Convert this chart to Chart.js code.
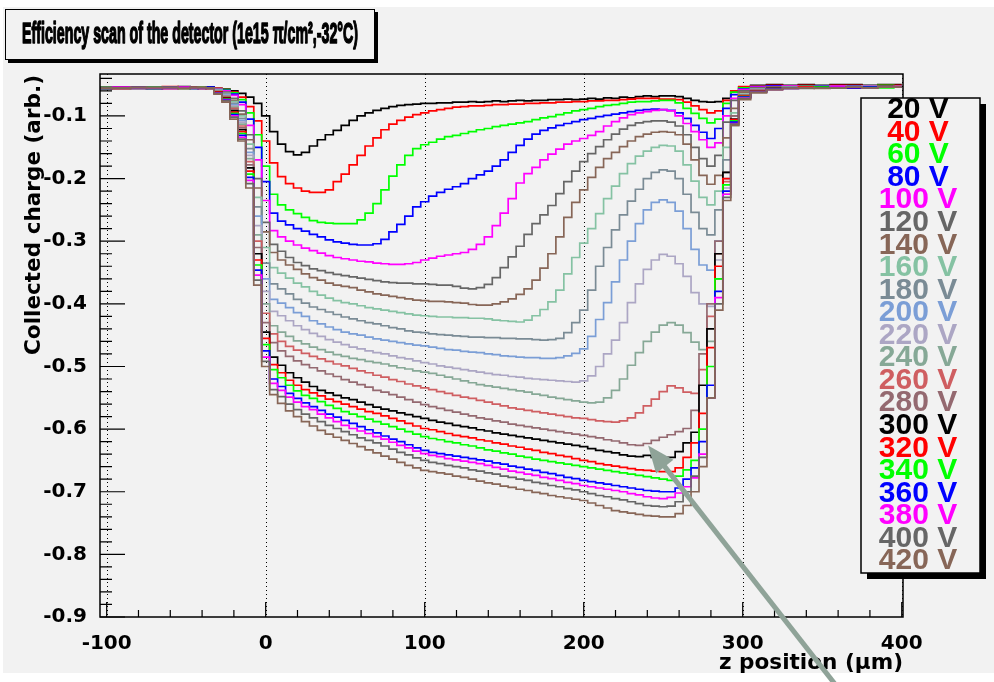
<!DOCTYPE html>
<html>
<head>
<meta charset="utf-8">
<script src="https://cdn.jsdelivr.net/npm/chart.js@4.4.0/dist/chart.umd.min.js"></script>
<style>
  html, body { margin: 0; padding: 0; background: #fff; }
  canvas { display: block; }
</style>
</head>
<body>
<canvas id="scan" width="994" height="682"></canvas>
<script>
// z position of each bin (um)
var zPos = [-104,-90,-80,-70,-60,-50,-45,-40,-35,-30,-25,-20,-15,-10,-5,0,
  5,10,15,20,25,30,35,40,45,50,55,60,65,70,75,80,85,90,95,100,
  105,110,115,120,125,130,135,140,145,150,155,160,165,170,175,180,185,190,195,200,
  205,210,215,220,225,230,235,240,245,250,255,260,265,270,275,280,285,290,295,300,
  310,320,330,340,350,360,370,380,390,400]

var voltLabels = ['20 V','40 V','60 V','80 V','100 V','120 V','140 V','160 V','180 V','200 V','220 V',
  '240 V','260 V','280 V','300 V','320 V','340 V','360 V','380 V','400 V','420 V']

var xTicks = [-100, 0, 100, 200, 300, 400]
var yTicks = [-0.9, -0.8, -0.7, -0.6, -0.5, -0.4, -0.3, -0.2, -0.1]

// collected charge per bias voltage
var c20 = [-0.055,-0.054,-0.056,-0.054,-0.055,-0.053,-0.055,-0.054,-0.055,-0.056,-0.057,-0.060,-0.064,-0.070,-0.080,-0.100,
  -0.125,-0.145,-0.157,-0.162,-0.158,-0.148,-0.138,-0.130,-0.123,-0.115,-0.107,-0.100,-0.095,-0.091,-0.088,-0.085,-0.083,-0.082,-0.081,-0.080,
  -0.080,-0.079,-0.079,-0.078,-0.078,-0.077,-0.078,-0.077,-0.076,-0.077,-0.076,-0.075,-0.076,-0.075,-0.075,-0.074,-0.074,-0.073,-0.074,-0.073,
  -0.072,-0.073,-0.071,-0.072,-0.070,-0.071,-0.069,-0.068,-0.069,-0.068,-0.068,-0.069,-0.072,-0.075,-0.077,-0.078,-0.077,-0.072,-0.062,-0.054,
  -0.051,-0.050,-0.051,-0.050,-0.051,-0.050,-0.050,-0.051,-0.050,-0.050]
var c40 = [-0.054,-0.056,-0.054,-0.055,-0.053,-0.055,-0.054,-0.056,-0.055,-0.056,-0.058,-0.062,-0.070,-0.085,-0.108,-0.140,
  -0.175,-0.197,-0.208,-0.215,-0.220,-0.222,-0.222,-0.218,-0.205,-0.193,-0.178,-0.163,-0.148,-0.135,-0.122,-0.113,-0.107,-0.102,-0.098,-0.095,
  -0.092,-0.090,-0.088,-0.086,-0.085,-0.084,-0.084,-0.083,-0.082,-0.082,-0.081,-0.081,-0.080,-0.080,-0.079,-0.079,-0.078,-0.078,-0.077,-0.077,
  -0.076,-0.076,-0.075,-0.075,-0.074,-0.073,-0.072,-0.072,-0.072,-0.073,-0.073,-0.074,-0.078,-0.084,-0.090,-0.095,-0.092,-0.075,-0.060,-0.053,
  -0.052,-0.051,-0.052,-0.051,-0.052,-0.051,-0.051,-0.052,-0.051,-0.051]
var c60 = [-0.056,-0.055,-0.054,-0.056,-0.055,-0.054,-0.056,-0.055,-0.056,-0.057,-0.058,-0.063,-0.074,-0.095,-0.130,-0.180,
  -0.225,-0.242,-0.250,-0.256,-0.262,-0.267,-0.270,-0.271,-0.272,-0.272,-0.272,-0.266,-0.255,-0.240,-0.218,-0.196,-0.178,-0.163,-0.152,-0.146,
  -0.142,-0.137,-0.133,-0.131,-0.128,-0.125,-0.122,-0.120,-0.117,-0.115,-0.113,-0.111,-0.109,-0.106,-0.103,-0.101,-0.098,-0.095,-0.092,-0.090,
  -0.088,-0.085,-0.083,-0.082,-0.080,-0.078,-0.077,-0.077,-0.076,-0.075,-0.075,-0.079,-0.088,-0.096,-0.104,-0.111,-0.105,-0.080,-0.062,-0.055,
  -0.053,-0.052,-0.053,-0.052,-0.052,-0.053,-0.052,-0.052,-0.051,-0.052]
var c80 = [-0.055,-0.056,-0.055,-0.054,-0.056,-0.055,-0.054,-0.055,-0.056,-0.057,-0.059,-0.065,-0.078,-0.105,-0.150,-0.205,
  -0.255,-0.268,-0.274,-0.280,-0.284,-0.289,-0.293,-0.298,-0.301,-0.303,-0.305,-0.306,-0.306,-0.304,-0.297,-0.285,-0.273,-0.260,-0.245,-0.237,
  -0.228,-0.222,-0.217,-0.213,-0.208,-0.200,-0.194,-0.188,-0.180,-0.170,-0.158,-0.147,-0.137,-0.129,-0.123,-0.119,-0.115,-0.112,-0.109,-0.106,
  -0.104,-0.101,-0.099,-0.097,-0.095,-0.093,-0.091,-0.090,-0.089,-0.090,-0.091,-0.095,-0.104,-0.115,-0.126,-0.136,-0.120,-0.088,-0.066,-0.057,
  -0.053,-0.052,-0.053,-0.053,-0.052,-0.053,-0.052,-0.053,-0.052,-0.052]
var c100 = [-0.054,-0.055,-0.056,-0.055,-0.054,-0.056,-0.055,-0.054,-0.056,-0.057,-0.060,-0.067,-0.082,-0.115,-0.170,-0.235,
  -0.283,-0.293,-0.300,-0.306,-0.311,-0.315,-0.319,-0.323,-0.326,-0.328,-0.330,-0.332,-0.333,-0.335,-0.336,-0.337,-0.337,-0.336,-0.334,-0.330,
  -0.327,-0.324,-0.322,-0.320,-0.318,-0.313,-0.305,-0.293,-0.275,-0.255,-0.232,-0.207,-0.192,-0.182,-0.170,-0.161,-0.153,-0.145,-0.140,-0.136,
  -0.131,-0.125,-0.116,-0.109,-0.103,-0.098,-0.095,-0.093,-0.091,-0.090,-0.092,-0.100,-0.112,-0.125,-0.138,-0.150,-0.143,-0.100,-0.072,-0.058,
  -0.054,-0.053,-0.052,-0.053,-0.053,-0.052,-0.053,-0.052,-0.052,-0.053]
var c120 = [-0.056,-0.054,-0.055,-0.056,-0.054,-0.055,-0.056,-0.054,-0.055,-0.058,-0.062,-0.072,-0.092,-0.130,-0.200,-0.270,
  -0.305,-0.316,-0.326,-0.334,-0.339,-0.344,-0.347,-0.350,-0.353,-0.355,-0.357,-0.359,-0.361,-0.363,-0.365,-0.366,-0.367,-0.367,-0.368,-0.368,
  -0.369,-0.370,-0.370,-0.372,-0.375,-0.376,-0.374,-0.369,-0.358,-0.342,-0.325,-0.308,-0.289,-0.272,-0.258,-0.243,-0.224,-0.205,-0.188,-0.173,
  -0.160,-0.149,-0.138,-0.129,-0.121,-0.115,-0.111,-0.109,-0.108,-0.108,-0.110,-0.116,-0.130,-0.150,-0.168,-0.180,-0.163,-0.110,-0.075,-0.060,
  -0.055,-0.054,-0.053,-0.054,-0.053,-0.054,-0.053,-0.053,-0.052,-0.053]
var c140 = [-0.055,-0.056,-0.054,-0.055,-0.056,-0.054,-0.055,-0.056,-0.054,-0.058,-0.063,-0.075,-0.097,-0.138,-0.215,-0.285,
  -0.318,-0.330,-0.338,-0.345,-0.352,-0.358,-0.362,-0.367,-0.370,-0.372,-0.374,-0.378,-0.381,-0.384,-0.386,-0.388,-0.390,-0.392,-0.394,-0.395,
  -0.396,-0.396,-0.397,-0.398,-0.399,-0.401,-0.402,-0.402,-0.400,-0.397,-0.392,-0.385,-0.376,-0.362,-0.343,-0.320,-0.293,-0.262,-0.238,-0.218,
  -0.198,-0.182,-0.168,-0.158,-0.149,-0.140,-0.133,-0.129,-0.126,-0.125,-0.126,-0.130,-0.145,-0.170,-0.195,-0.209,-0.195,-0.135,-0.088,-0.062,
  -0.056,-0.054,-0.054,-0.053,-0.054,-0.053,-0.054,-0.053,-0.053,-0.052]
var c160 = [-0.054,-0.055,-0.056,-0.054,-0.055,-0.056,-0.054,-0.055,-0.056,-0.058,-0.064,-0.077,-0.100,-0.145,-0.230,-0.310,
  -0.342,-0.351,-0.359,-0.367,-0.373,-0.380,-0.386,-0.391,-0.395,-0.398,-0.400,-0.403,-0.406,-0.408,-0.410,-0.412,-0.414,-0.416,-0.418,-0.419,
  -0.420,-0.421,-0.421,-0.422,-0.422,-0.423,-0.423,-0.424,-0.426,-0.427,-0.428,-0.429,-0.426,-0.419,-0.409,-0.397,-0.378,-0.352,-0.326,-0.303,
  -0.280,-0.256,-0.232,-0.212,-0.192,-0.176,-0.164,-0.156,-0.150,-0.147,-0.148,-0.156,-0.178,-0.204,-0.230,-0.242,-0.220,-0.150,-0.095,-0.065,
  -0.057,-0.055,-0.054,-0.054,-0.053,-0.054,-0.053,-0.054,-0.053,-0.053]
var c180 = [-0.056,-0.055,-0.054,-0.055,-0.056,-0.054,-0.055,-0.054,-0.056,-0.059,-0.065,-0.080,-0.104,-0.152,-0.245,-0.335,
  -0.368,-0.376,-0.384,-0.393,-0.399,-0.405,-0.409,-0.413,-0.417,-0.421,-0.424,-0.427,-0.430,-0.432,-0.435,-0.438,-0.440,-0.443,-0.445,-0.446,
  -0.448,-0.449,-0.450,-0.451,-0.452,-0.453,-0.453,-0.454,-0.454,-0.455,-0.455,-0.456,-0.456,-0.457,-0.458,-0.457,-0.455,-0.446,-0.430,-0.410,
  -0.378,-0.340,-0.310,-0.282,-0.258,-0.236,-0.217,-0.200,-0.190,-0.186,-0.188,-0.200,-0.225,-0.254,-0.280,-0.290,-0.250,-0.170,-0.100,-0.066,
  -0.057,-0.055,-0.054,-0.055,-0.054,-0.054,-0.053,-0.054,-0.053,-0.053]
var c200 = [-0.055,-0.054,-0.056,-0.055,-0.054,-0.055,-0.056,-0.055,-0.054,-0.059,-0.066,-0.082,-0.107,-0.158,-0.260,-0.360,
  -0.393,-0.399,-0.406,-0.414,-0.420,-0.427,-0.432,-0.437,-0.441,-0.445,-0.448,-0.450,-0.453,-0.456,-0.458,-0.460,-0.462,-0.464,-0.466,-0.467,
  -0.469,-0.471,-0.473,-0.474,-0.476,-0.477,-0.478,-0.480,-0.481,-0.483,-0.484,-0.485,-0.486,-0.486,-0.487,-0.487,-0.486,-0.483,-0.479,-0.472,
  -0.452,-0.425,-0.398,-0.365,-0.330,-0.300,-0.272,-0.250,-0.238,-0.234,-0.238,-0.252,-0.280,-0.313,-0.338,-0.346,-0.300,-0.200,-0.110,-0.068,
  -0.058,-0.055,-0.055,-0.054,-0.054,-0.055,-0.054,-0.053,-0.054,-0.053]
var c220 = [-0.054,-0.056,-0.055,-0.054,-0.056,-0.055,-0.054,-0.056,-0.055,-0.060,-0.067,-0.084,-0.110,-0.163,-0.275,-0.380,
  -0.412,-0.419,-0.427,-0.435,-0.441,-0.447,-0.452,-0.457,-0.461,-0.465,-0.469,-0.472,-0.475,-0.478,-0.480,-0.483,-0.486,-0.488,-0.491,-0.494,
  -0.496,-0.499,-0.501,-0.503,-0.505,-0.507,-0.509,-0.511,-0.513,-0.514,-0.516,-0.517,-0.519,-0.520,-0.521,-0.522,-0.523,-0.524,-0.525,-0.523,
  -0.515,-0.500,-0.480,-0.458,-0.430,-0.398,-0.368,-0.345,-0.330,-0.321,-0.324,-0.336,-0.356,-0.382,-0.400,-0.404,-0.330,-0.215,-0.115,-0.070,
  -0.058,-0.056,-0.055,-0.054,-0.055,-0.054,-0.054,-0.053,-0.054,-0.053]
var c240 = [-0.056,-0.055,-0.054,-0.056,-0.055,-0.054,-0.056,-0.055,-0.054,-0.060,-0.068,-0.086,-0.113,-0.168,-0.290,-0.400,
  -0.435,-0.445,-0.452,-0.459,-0.464,-0.469,-0.473,-0.477,-0.481,-0.484,-0.487,-0.489,-0.492,-0.494,-0.496,-0.499,-0.502,-0.504,-0.507,-0.509,
  -0.511,-0.514,-0.517,-0.520,-0.523,-0.526,-0.529,-0.531,-0.533,-0.535,-0.537,-0.539,-0.541,-0.544,-0.546,-0.549,-0.551,-0.553,-0.555,-0.557,
  -0.558,-0.557,-0.550,-0.538,-0.520,-0.498,-0.478,-0.460,-0.445,-0.434,-0.430,-0.434,-0.446,-0.461,-0.473,-0.460,-0.360,-0.225,-0.115,-0.070,
  -0.059,-0.056,-0.055,-0.055,-0.054,-0.055,-0.054,-0.054,-0.053,-0.054]
var c260 = [-0.055,-0.056,-0.055,-0.054,-0.055,-0.056,-0.054,-0.055,-0.056,-0.061,-0.069,-0.088,-0.116,-0.173,-0.300,-0.415,
  -0.448,-0.460,-0.468,-0.474,-0.479,-0.484,-0.488,-0.492,-0.496,-0.499,-0.503,-0.507,-0.510,-0.514,-0.517,-0.521,-0.524,-0.528,-0.531,-0.534,
  -0.537,-0.540,-0.543,-0.546,-0.549,-0.551,-0.554,-0.557,-0.560,-0.563,-0.566,-0.568,-0.570,-0.572,-0.574,-0.576,-0.578,-0.580,-0.582,-0.583,
  -0.585,-0.587,-0.588,-0.589,-0.587,-0.582,-0.574,-0.563,-0.552,-0.540,-0.531,-0.534,-0.541,-0.543,-0.505,-0.420,-0.320,-0.205,-0.108,-0.068,
  -0.059,-0.056,-0.055,-0.054,-0.055,-0.054,-0.054,-0.055,-0.053,-0.054]
var c280 = [-0.054,-0.055,-0.056,-0.055,-0.054,-0.055,-0.056,-0.054,-0.055,-0.061,-0.070,-0.090,-0.119,-0.178,-0.310,-0.430,
  -0.462,-0.475,-0.484,-0.491,-0.497,-0.502,-0.507,-0.512,-0.516,-0.521,-0.525,-0.529,-0.533,-0.538,-0.541,-0.545,-0.549,-0.553,-0.557,-0.561,
  -0.564,-0.567,-0.570,-0.573,-0.576,-0.579,-0.582,-0.584,-0.587,-0.589,-0.592,-0.594,-0.596,-0.598,-0.600,-0.602,-0.604,-0.606,-0.608,-0.610,
  -0.612,-0.614,-0.617,-0.619,-0.622,-0.625,-0.626,-0.623,-0.618,-0.613,-0.609,-0.604,-0.599,-0.570,-0.480,-0.400,-0.300,-0.190,-0.100,-0.067,
  -0.059,-0.056,-0.055,-0.055,-0.054,-0.054,-0.055,-0.054,-0.054,-0.053]
var c300 = [-0.056,-0.054,-0.055,-0.056,-0.055,-0.054,-0.055,-0.056,-0.054,-0.062,-0.071,-0.092,-0.122,-0.183,-0.320,-0.445,
  -0.485,-0.498,-0.510,-0.518,-0.525,-0.532,-0.538,-0.542,-0.546,-0.550,-0.553,-0.557,-0.561,-0.565,-0.568,-0.571,-0.574,-0.577,-0.580,-0.583,
  -0.586,-0.589,-0.591,-0.594,-0.596,-0.598,-0.601,-0.603,-0.606,-0.608,-0.610,-0.612,-0.614,-0.616,-0.618,-0.620,-0.622,-0.624,-0.626,-0.628,
  -0.631,-0.634,-0.636,-0.638,-0.641,-0.643,-0.644,-0.642,-0.645,-0.647,-0.645,-0.636,-0.622,-0.605,-0.530,-0.440,-0.320,-0.190,-0.105,-0.068,
  -0.060,-0.056,-0.055,-0.055,-0.054,-0.055,-0.054,-0.054,-0.053,-0.054]
var c320 = [-0.055,-0.056,-0.054,-0.055,-0.056,-0.055,-0.054,-0.055,-0.056,-0.062,-0.072,-0.094,-0.125,-0.188,-0.330,-0.455,
  -0.497,-0.510,-0.522,-0.530,-0.537,-0.542,-0.547,-0.552,-0.556,-0.560,-0.564,-0.568,-0.572,-0.575,-0.579,-0.583,-0.587,-0.591,-0.595,-0.599,
  -0.601,-0.604,-0.607,-0.610,-0.612,-0.614,-0.617,-0.619,-0.622,-0.624,-0.627,-0.629,-0.632,-0.634,-0.637,-0.639,-0.642,-0.644,-0.647,-0.650,
  -0.652,-0.655,-0.657,-0.659,-0.661,-0.663,-0.665,-0.666,-0.667,-0.668,-0.668,-0.662,-0.645,-0.622,-0.575,-0.470,-0.340,-0.200,-0.106,-0.068,
  -0.060,-0.057,-0.055,-0.054,-0.055,-0.054,-0.055,-0.054,-0.054,-0.053]
var c340 = [-0.054,-0.055,-0.056,-0.054,-0.055,-0.056,-0.055,-0.054,-0.055,-0.063,-0.073,-0.096,-0.128,-0.193,-0.338,-0.465,
  -0.505,-0.518,-0.530,-0.539,-0.546,-0.551,-0.556,-0.562,-0.567,-0.572,-0.576,-0.580,-0.584,-0.588,-0.592,-0.596,-0.600,-0.604,-0.608,-0.612,
  -0.615,-0.617,-0.620,-0.622,-0.625,-0.627,-0.630,-0.633,-0.635,-0.638,-0.640,-0.643,-0.645,-0.648,-0.650,-0.652,-0.654,-0.656,-0.658,-0.660,
  -0.662,-0.664,-0.666,-0.668,-0.670,-0.672,-0.674,-0.676,-0.678,-0.680,-0.682,-0.675,-0.665,-0.650,-0.600,-0.500,-0.360,-0.210,-0.108,-0.069,
  -0.061,-0.057,-0.055,-0.055,-0.054,-0.055,-0.054,-0.054,-0.055,-0.054]
var c360 = [-0.056,-0.055,-0.054,-0.056,-0.054,-0.055,-0.056,-0.055,-0.054,-0.063,-0.074,-0.098,-0.131,-0.198,-0.346,-0.475,
  -0.520,-0.532,-0.543,-0.551,-0.558,-0.564,-0.570,-0.576,-0.581,-0.586,-0.591,-0.596,-0.601,-0.606,-0.611,-0.616,-0.620,-0.625,-0.630,-0.634,
  -0.637,-0.639,-0.641,-0.643,-0.645,-0.647,-0.649,-0.651,-0.654,-0.656,-0.659,-0.661,-0.664,-0.666,-0.669,-0.671,-0.674,-0.677,-0.679,-0.682,
  -0.684,-0.686,-0.688,-0.690,-0.692,-0.694,-0.696,-0.698,-0.699,-0.700,-0.700,-0.694,-0.680,-0.662,-0.620,-0.530,-0.380,-0.220,-0.110,-0.070,
  -0.061,-0.057,-0.056,-0.055,-0.055,-0.054,-0.055,-0.054,-0.054,-0.054]
var c380 = [-0.055,-0.054,-0.056,-0.055,-0.056,-0.054,-0.055,-0.056,-0.055,-0.064,-0.075,-0.100,-0.134,-0.203,-0.354,-0.485,
  -0.527,-0.538,-0.549,-0.557,-0.564,-0.569,-0.576,-0.582,-0.588,-0.594,-0.599,-0.603,-0.607,-0.612,-0.616,-0.621,-0.626,-0.630,-0.635,-0.639,
  -0.642,-0.644,-0.647,-0.649,-0.651,-0.653,-0.655,-0.658,-0.661,-0.664,-0.667,-0.669,-0.672,-0.674,-0.677,-0.679,-0.682,-0.685,-0.687,-0.690,
  -0.692,-0.694,-0.696,-0.698,-0.700,-0.703,-0.705,-0.708,-0.710,-0.711,-0.709,-0.702,-0.692,-0.678,-0.640,-0.550,-0.390,-0.225,-0.112,-0.071,
  -0.062,-0.058,-0.056,-0.055,-0.055,-0.054,-0.054,-0.055,-0.054,-0.053]
var c400 = [-0.054,-0.056,-0.055,-0.054,-0.055,-0.056,-0.054,-0.055,-0.056,-0.064,-0.076,-0.102,-0.137,-0.208,-0.362,-0.492,
  -0.537,-0.548,-0.560,-0.569,-0.576,-0.582,-0.588,-0.594,-0.599,-0.604,-0.609,-0.614,-0.618,-0.622,-0.627,-0.632,-0.637,-0.641,-0.646,-0.650,
  -0.653,-0.655,-0.658,-0.660,-0.662,-0.665,-0.667,-0.670,-0.672,-0.675,-0.677,-0.680,-0.682,-0.685,-0.687,-0.690,-0.692,-0.695,-0.697,-0.700,
  -0.703,-0.706,-0.708,-0.711,-0.713,-0.716,-0.719,-0.722,-0.723,-0.724,-0.723,-0.716,-0.700,-0.675,-0.645,-0.550,-0.400,-0.230,-0.113,-0.072,
  -0.062,-0.058,-0.056,-0.056,-0.055,-0.055,-0.054,-0.055,-0.054,-0.054]
var c420 = [-0.056,-0.055,-0.054,-0.055,-0.054,-0.056,-0.055,-0.054,-0.055,-0.065,-0.078,-0.105,-0.140,-0.215,-0.370,-0.500,
  -0.545,-0.559,-0.571,-0.580,-0.588,-0.595,-0.602,-0.608,-0.613,-0.618,-0.623,-0.628,-0.633,-0.638,-0.643,-0.648,-0.653,-0.658,-0.662,-0.666,
  -0.668,-0.670,-0.672,-0.675,-0.677,-0.680,-0.683,-0.686,-0.688,-0.691,-0.693,-0.696,-0.698,-0.701,-0.703,-0.706,-0.708,-0.710,-0.712,-0.714,
  -0.718,-0.722,-0.726,-0.730,-0.732,-0.734,-0.736,-0.738,-0.739,-0.740,-0.740,-0.735,-0.722,-0.700,-0.660,-0.550,-0.410,-0.235,-0.115,-0.074,
  -0.063,-0.058,-0.056,-0.055,-0.056,-0.055,-0.054,-0.055,-0.054,-0.054]

var series = [c20, c40, c60, c80, c100, c120, c140, c160, c180, c200, c220,
  c240, c260, c280, c300, c320, c340, c360, c380, c400, c420]

var lineColors = ['#000000','#ff0000','#00ff00','#0000ff','#ff00ff','#666666','#876657','#85c2a3','#7a8b95','#7b9ed6','#aca6c4',
  '#86a896','#cf5e61','#946970','#000000','#ff0000','#00ff00','#0000ff','#ff00ff','#666666','#876657']

var titleText = 'Efficiency scan of the detector (1e15 \u03c0/cm\u00b2,-32\u00b0C)'
var yTitle = 'Collected charge (arb.)'
var xTitle = 'z position (\u03bcm)'

// draw text squeezed / stretched to a given width, optional outline to make it heavier
function fitText(ctx, text, x, y, font, width, align, heavy) {
    ctx.font = font
    var w = ctx.measureText(text).width
    ctx.save()
    ctx.translate(x, y)
    ctx.scale(width / w, 1)
    ctx.textAlign = align
    ctx.textBaseline = 'middle'
    ctx.fillText(text, 0, 0)
    if (heavy) {
        ctx.strokeStyle = ctx.fillStyle
        ctx.lineWidth = heavy
        ctx.lineJoin = 'round'
        ctx.strokeText(text, 0, 0)
    }
    ctx.restore()
}

var rootLook = {
    id: 'rootLook',
    beforeDraw: function (chart) {
        var ctx = chart.ctx
        ctx.save()
        ctx.fillStyle = '#ffffff'
        ctx.fillRect(0, 0, chart.width, chart.height)
        ctx.fillStyle = '#f2f2f2'
        ctx.fillRect(3, 7, chart.width - 3, 666)
        ctx.restore()
    },
    beforeDatasetsDraw: function (chart) {
        var ctx = chart.ctx, a = chart.chartArea, xs = chart.scales.x
        ctx.save()
        ctx.strokeStyle = '#000'
        ctx.lineWidth = 1
        ctx.setLineDash([1, 3])
        xTicks.forEach(function (v) {
            var px = Math.round(xs.getPixelForValue(v)) + 0.5
            ctx.beginPath()
            ctx.moveTo(px, a.top)
            ctx.lineTo(px, a.bottom)
            ctx.stroke()
        })
        ctx.restore()
    },
    afterDraw: function (chart) {
        var ctx = chart.ctx, a = chart.chartArea
        var xs = chart.scales.x, ys = chart.scales.y
        ctx.save()

        // frame
        ctx.strokeStyle = '#000'
        ctx.lineWidth = 1.5
        ctx.strokeRect(a.left, a.top, a.right - a.left, a.bottom - a.top)

        // ticks, ROOT style (inside the frame)
        ctx.lineWidth = 1.2
        ctx.beginPath()
        yTicks.forEach(function (v) {
            var py = ys.getPixelForValue(v)
            ctx.moveTo(a.left, py); ctx.lineTo(a.left + 25, py)
        })
        for (var m = -0.88; m < -0.035; m += 0.02) {
            var py = ys.getPixelForValue(m)
            ctx.moveTo(a.left, py); ctx.lineTo(a.left + 12, py)
        }
        xTicks.forEach(function (v) {
            var px = xs.getPixelForValue(v)
            ctx.moveTo(px, a.bottom); ctx.lineTo(px, a.bottom - 15)
        })
        for (var n = -80; n < 400; n += 20) {
            if (n % 100 === 0) continue
            var px = xs.getPixelForValue(n)
            ctx.moveTo(px, a.bottom); ctx.lineTo(px, a.bottom - 7)
        }
        ctx.stroke()

        // axis titles
        ctx.fillStyle = '#000'
        ctx.save()
        ctx.translate(34, 215)
        ctx.rotate(-Math.PI / 2)
        fitText(ctx, yTitle, 0, 0, 'bold 22px "DejaVu Sans"', 280, 'center')
        ctx.restore()
        fitText(ctx, xTitle, a.right, 664, 'bold 21px "DejaVu Sans"', 184, 'right')

        // title box
        ctx.fillStyle = '#000'
        ctx.fillRect(8, 12, 370, 51)
        ctx.fillStyle = '#f2f2f2'
        ctx.fillRect(5, 9, 370, 51)
        ctx.lineWidth = 1
        ctx.strokeRect(5.5, 9.5, 369, 50)
        ctx.fillStyle = '#000'
        fitText(ctx, titleText, 190, 35, 'bold 30px "Liberation Sans Narrow", "Liberation Sans"', 336, 'center', 1.6)

        // legend box
        ctx.fillStyle = '#000'
        ctx.fillRect(867, 104, 119, 475)
        ctx.fillStyle = '#f2f2f2'
        ctx.fillRect(861, 98, 119, 475)
        ctx.lineWidth = 1.5
        ctx.strokeRect(861, 98, 119, 475)
        ctx.font = 'bold 30px "Liberation Sans"'
        ctx.textAlign = 'center'
        ctx.textBaseline = 'middle'
        voltLabels.forEach(function (t, i) {
            ctx.fillStyle = lineColors[i]
            ctx.fillText(t, 918, 110 + i * 22.55)
        })

        // arrow pointing at the 280 V curve
        var tx = xs.getPixelForValue(240.5), ty = ys.getPixelForValue(-0.626)
        var sx = xs.getPixelForValue(362), sy = ys.getPixelForValue(-1.02)
        var dx = sx - tx, dy = sy - ty, len = Math.sqrt(dx * dx + dy * dy)
        var ux = dx / len, uy = dy / len
        ctx.strokeStyle = '#8fa398'
        ctx.fillStyle = '#8fa398'
        ctx.lineWidth = 5
        ctx.beginPath()
        ctx.moveTo(tx + ux * 20, ty + uy * 20)
        ctx.lineTo(sx, sy)
        ctx.stroke()
        ctx.beginPath()
        ctx.moveTo(tx, ty)
        ctx.lineTo(tx + ux * 27 + uy * 11, ty + uy * 27 - ux * 11)
        ctx.lineTo(tx + ux * 27 - uy * 11, ty + uy * 27 + ux * 11)
        ctx.closePath()
        ctx.fill()

        ctx.restore()
    }
}

var ctx = document.getElementById('scan').getContext('2d')
var scanChart = new Chart(ctx, {
    type: 'line',
    data: {
        datasets: series.map(function (s, i) {
            return {
                label: voltLabels[i],
                data: s.map(function (v, k) { return { x: zPos[k], y: v } }),
                borderColor: lineColors[i],
                borderWidth: 1.7,
                pointRadius: 0,
                stepped: 'middle',
                fill: false,
                order: series.length - 1 - i
            }
        })
    },
    options: {
        responsive: false,
        animation: false,
        events: [],
        layout: { padding: { top: 74, right: 91, left: 0, bottom: 0 } },
        plugins: {
            legend: { display: false },
            tooltip: { enabled: false }
        },
        scales: {
            x: {
                type: 'linear',
                min: -104.2,
                max: 400.8,
                afterFit: function (s) { s.height = 65 },
                afterBuildTicks: function (s) { s.ticks = xTicks.map(function (v) { return { value: v } }) },
                grid: { display: false },
                border: { display: false },
                ticks: {
                    color: '#000',
                    padding: 7,
                    maxRotation: 0,
                    autoSkip: false,
                    font: { family: 'DejaVu Sans', size: 20, weight: 'bold' },
                    callback: function (v) { return String(v) }
                }
            },
            y: {
                type: 'linear',
                min: -0.9,
                max: -0.033,
                afterFit: function (s) { s.width = 100 },
                afterBuildTicks: function (s) { s.ticks = yTicks.map(function (v) { return { value: v } }) },
                grid: { display: false },
                border: { display: false },
                ticks: {
                    color: '#000',
                    padding: 5,
                    font: { family: 'DejaVu Sans', size: 20, weight: 'bold' },
                    callback: function (v) { return v.toFixed(1) }
                }
            }
        }
    },
    plugins: [rootLook]
});
</script>
</body>
</html>
